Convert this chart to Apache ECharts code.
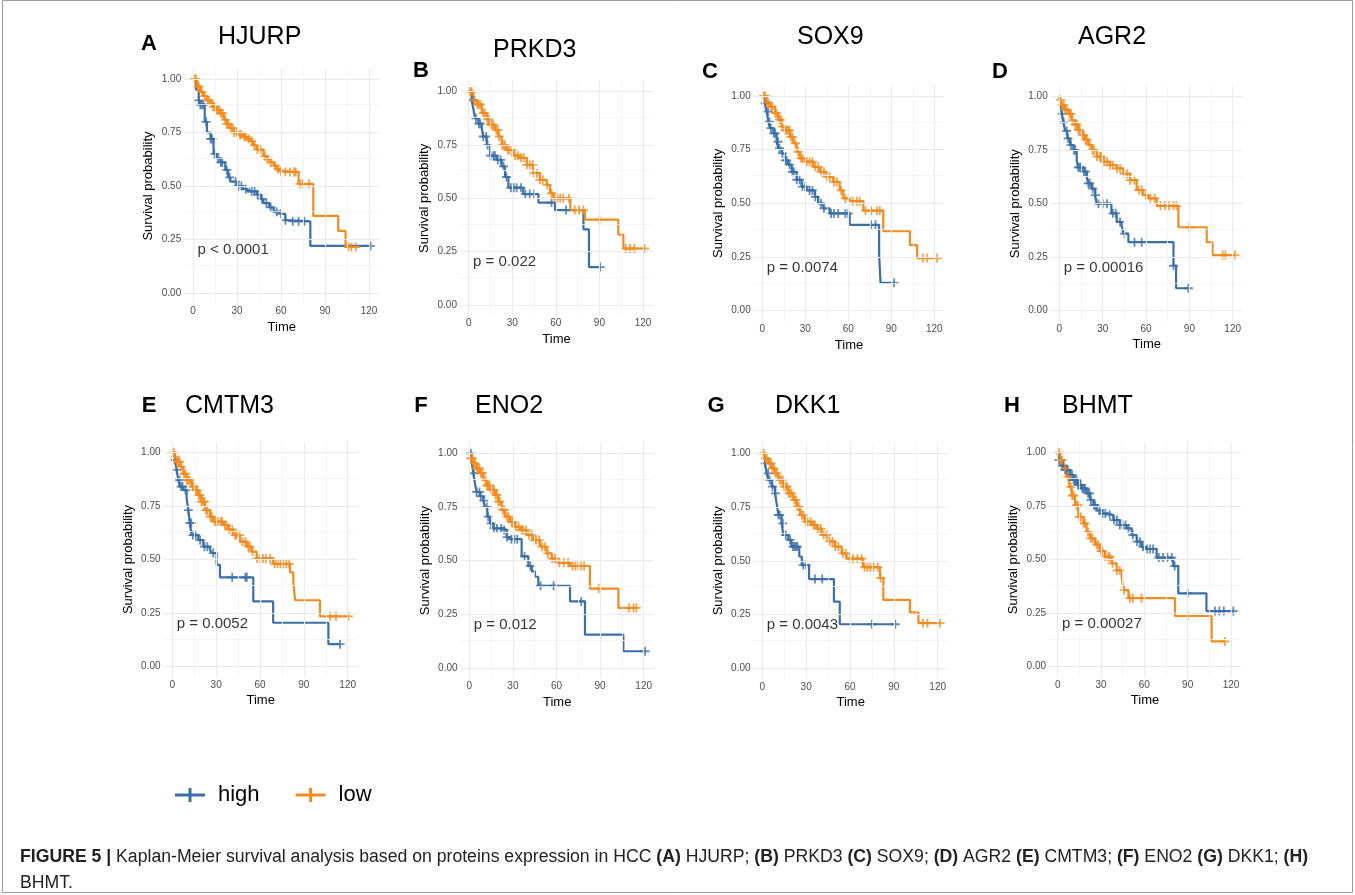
<!DOCTYPE html>
<html>
<head>
<meta charset="utf-8">
<script src="https://cdn.jsdelivr.net/npm/echarts@6/dist/echarts.min.js"></script>
<style>
html,body{margin:0;padding:0;background:#fff;}
#chart{width:1355px;height:895px;}
</style>
</head>
<body>
<div id="chart"></div>
<script>
// ---- data ----
const genes = ['HJURP', 'PRKD3', 'SOX9', 'AGR2', 'CMTM3', 'ENO2', 'DKK1', 'BHMT'];
const letters = ['A', 'B', 'C', 'D', 'E', 'F', 'G', 'H'];
const pValues = ['p < 0.0001', 'p = 0.022', 'p = 0.0074', 'p = 0.00016', 'p = 0.0052', 'p = 0.012', 'p = 0.0043', 'p = 0.00027'];
const xTicks = [0, 30, 60, 90, 120];
const xMinor = [15, 45, 75, 105];
const yTicks = [0, 0.25, 0.5, 0.75, 1];
const yMinor = [0.125, 0.375, 0.625, 0.875];

// KM steps [time, survival] and censor times
const hjurpHigh = [[0,1],[2,0.95],[3.9,0.90],[5,0.88],[8,0.80],[9.5,0.75],[12,0.72],[14,0.65],[16,0.63],[18.6,0.61],[22,0.575],[24,0.54],[25.5,0.52],[30,0.50],[34,0.485],[37,0.475],[43.6,0.46],[46,0.44],[48,0.42],[52,0.40],[55,0.38],[59.5,0.37],[63,0.34],[65,0.335],[80,0.22],[121,0.22]];
const hjurpHighCens = [4,5,6,7,9,12,13,15,17,19,20,23,25,29,31,33,36,40,42,44,47,50,53,57,60,63,68,72,76,121];
const hjurpLow = [[0,1],[3,0.965],[5,0.94],[7,0.92],[9.5,0.90],[12,0.885],[14,0.87],[16,0.855],[18.6,0.84],[21,0.81],[23,0.79],[25,0.77],[27.7,0.75],[31,0.74],[34.5,0.73],[37,0.72],[39,0.71],[41,0.69],[43.6,0.67],[48,0.64],[50,0.625],[52.7,0.61],[55,0.595],[57,0.58],[59.5,0.57],[62,0.565],[72,0.51],[82,0.36],[99,0.29],[104,0.215],[111,0.215]];
const hjurpLowCens = [1,2,3,4,6,8,10,11,13,14,15,16,17,18,19,20,22,23,24,26,27,28,30,32,33,35,36,38,40,42,44,46,49,51,53,56,58,60,63,66,69,70,73,75,79,106,108,111];

const prkd3High = [[0,1],[2,0.96],[3.2,0.92],[4.4,0.875],[6.7,0.85],[9,0.83],[10,0.79],[12.4,0.75],[14.7,0.70],[19.3,0.68],[22.7,0.65],[25,0.60],[27.3,0.55],[37.6,0.52],[48,0.48],[59.4,0.445],[79,0.355],[82.8,0.178],[90.5,0.178]];
const prkd3HighCens = [3,5,7,8,10,12,13,15,17,18,20,22,24,26,29,31,33,36,39,42,45,57,67,90.5];
const prkd3Low = [[0,1],[3.2,0.96],[5.5,0.94],[9,0.90],[12.4,0.87],[14.7,0.845],[18,0.82],[20.4,0.79],[22.7,0.75],[26,0.727],[30.7,0.70],[35.3,0.69],[40,0.657],[44.5,0.618],[49,0.587],[53.7,0.563],[56,0.524],[58.3,0.50],[70,0.445],[80,0.40],[103,0.33],[106.5,0.265],[121,0.265]];
const prkd3LowCens = [1,2,4,6,7,8,10,11,13,14,15,16,17,19,20,21,23,24,25,27,28,30,32,34,36,38,40,42,44,45,47,49,51,54,57,59,61,63,65,69,73,76,79,90,108,111,114,121];

const sox9High = [[0,1],[1.9,0.966],[3,0.927],[4.2,0.88],[5.3,0.85],[7.7,0.826],[10,0.787],[11.2,0.756],[13.5,0.733],[15.8,0.70],[18,0.68],[20.5,0.647],[24,0.61],[27.4,0.578],[31,0.56],[36.7,0.53],[39,0.50],[42.6,0.477],[47,0.453],[61,0.40],[81.5,0.26],[82.5,0.13],[92,0.13]];
const sox9HighCens = [2,4,5,6,8,9,11,12,14,16,17,19,21,22,24,26,28,30,33,35,37,41,43,48,50,53,58,60,76,79,92];
const sox9Low = [[0,1],[3,0.97],[5.3,0.95],[8.8,0.92],[11,0.89],[13.5,0.857],[15.8,0.84],[19.3,0.81],[21.6,0.78],[24,0.74],[26.3,0.71],[29.8,0.694],[35.6,0.67],[40,0.647],[45,0.624],[49.5,0.60],[54,0.56],[56.5,0.523],[61,0.51],[70.5,0.466],[84.4,0.37],[103,0.305],[108,0.245],[122,0.245]];
const sox9LowCens = [1,2,3,4,6,7,9,10,12,13,14,16,17,18,19,20,21,23,25,27,28,31,33,35,37,39,41,43,45,47,50,52,55,58,63,66,68,72,76,80,82,112,115,122];

const agr2High = [[0,1],[1,0.953],[1.6,0.92],[2.8,0.88],[4,0.84],[5.5,0.805],[7.4,0.774],[9.7,0.75],[12,0.70],[13,0.67],[16.6,0.65],[19,0.62],[20,0.595],[22.4,0.57],[24.7,0.54],[25.8,0.50],[36,0.455],[39.7,0.415],[43,0.40],[44.3,0.36],[47.8,0.32],[79,0.21],[80.8,0.105],[89.3,0.105]];
const agr2HighCens = [2,3,5,6,8,10,11,13,14,15,17,18,20,21,23,25,27,30,33,37,39,42,45,52,57,79,89.3];
const agr2Low = [[0,1],[0.5,0.985],[1.6,0.96],[3.2,0.94],[6.2,0.92],[8.5,0.89],[10.8,0.87],[13,0.845],[15.5,0.82],[17.8,0.80],[20,0.775],[22.4,0.75],[25.8,0.72],[30.5,0.696],[35,0.68],[39.7,0.665],[44.3,0.64],[49,0.61],[53.5,0.564],[58,0.54],[61.6,0.525],[67.4,0.49],[82.4,0.39],[102,0.32],[106,0.26],[121.6,0.26]];
const agr2LowCens = [1,2,3,4,5,7,8,9,11,12,13,14,16,17,18,19,21,23,24,26,28,29,31,33,35,37,40,42,45,47,49,52,55,57,60,63,66,70,73,76,79,81,90,113,115,121.6];

const cmtm3High = [[0,1],[1.8,0.964],[3,0.918],[4.1,0.87],[5.2,0.84],[7.5,0.824],[9.8,0.785],[11,0.73],[12,0.67],[13.2,0.614],[17.8,0.59],[21.2,0.56],[25.8,0.544],[27,0.53],[30.3,0.475],[32.6,0.417],[55.4,0.305],[69,0.205],[106.8,0.105],[114.8,0.105]];
const cmtm3HighCens = [2,3,5,6,7,9,11,12,13,14,16,19,22,24,28,41,50,51,114.8];
const cmtm3Low = [[0,1],[1.8,0.98],[3,0.956],[5.2,0.933],[7.5,0.90],[9.8,0.87],[13.2,0.84],[15.5,0.824],[17.8,0.80],[20,0.77],[22.4,0.73],[25.8,0.70],[28,0.677],[35,0.66],[38.3,0.64],[41.7,0.614],[46.3,0.583],[51,0.56],[54.3,0.537],[57.7,0.505],[69,0.48],[80.5,0.44],[82.8,0.397],[84,0.31],[101,0.235],[120.5,0.235]];
const cmtm3LowCens = [1,2,3,4,5,6,8,9,10,11,12,14,15,16,17,18,19,20,21,22,23,24,26,27,29,30,31,33,34,36,37,39,41,43,44,46,48,50,52,53,55,58,60,62,64,67,70,72,74,76,78,80,108,112,120.5];

const eno2High = [[0,1],[1.6,0.96],[2.8,0.907],[3.9,0.86],[5,0.82],[7.3,0.80],[9.6,0.78],[10.8,0.75],[12.4,0.705],[14.2,0.674],[16.5,0.65],[23.4,0.643],[25.7,0.61],[28,0.60],[36,0.52],[40.6,0.475],[43,0.45],[45.2,0.425],[47.5,0.383],[69.3,0.31],[79.6,0.155],[106,0.078],[121,0.078]];
const eno2HighCens = [1,3,5,7,8,10,12,13,15,17,19,22,24,26,29,31,33,38,42,49,58,77,121];
const eno2Low = [[0,1],[1,0.977],[2.8,0.953],[5,0.93],[7.3,0.907],[9.6,0.876],[12,0.85],[14.2,0.83],[17.7,0.806],[20,0.775],[22.3,0.736],[24.6,0.705],[28,0.68],[31.4,0.658],[35,0.643],[39.5,0.62],[44,0.596],[48.6,0.565],[53.2,0.534],[56.7,0.51],[60,0.49],[69.3,0.475],[83,0.37],[102.6,0.28],[115,0.28]];
const eno2LowCens = [1,2,3,4,5,6,7,8,9,11,12,13,14,15,16,17,18,19,20,21,23,24,26,27,29,30,32,34,36,37,39,41,43,45,46,48,50,52,54,57,59,62,65,68,71,73,75,77,79,89,110,113,115];

const dkk1High = [[0,1],[1.8,0.953],[3,0.907],[4.1,0.876],[6.4,0.845],[8.7,0.814],[9.8,0.767],[11,0.713],[13.2,0.674],[14.4,0.62],[17.8,0.597],[20,0.566],[25.3,0.52],[27,0.48],[32,0.415],[49,0.31],[53,0.205],[91,0.205]];
const dkk1HighCens = [2,4,5,7,9,11,12,14,16,19,21,22,23,24,28,30,36,41,75,91];
const dkk1Low = [[0,1],[1.8,0.977],[4.1,0.953],[6.4,0.93],[8.7,0.907],[11,0.876],[14.4,0.845],[17.8,0.814],[21.2,0.783],[23.5,0.752],[25.8,0.713],[29.2,0.682],[33.8,0.667],[37.2,0.65],[40.6,0.62],[45.2,0.59],[49.7,0.566],[54.3,0.535],[57.7,0.51],[69,0.47],[80.5,0.42],[82.8,0.318],[101,0.26],[106.8,0.21],[121.6,0.21]];
const dkk1LowCens = [1,2,3,5,6,7,8,9,10,12,13,14,15,16,17,18,19,20,22,23,24,25,27,28,30,31,33,35,36,38,40,42,44,46,48,50,52,55,57,60,62,65,68,70,72,74,76,79,81,110,113,121.6];

const bhmtHigh = [[0,1],[0.5,0.966],[2.8,0.94],[5,0.92],[8.5,0.896],[10.8,0.872],[13.2,0.85],[16.6,0.833],[20,0.81],[22.4,0.78],[24.7,0.755],[27,0.73],[30.5,0.716],[35,0.709],[38.5,0.685],[43,0.662],[47.8,0.646],[51.2,0.615],[54.7,0.584],[58,0.56],[61,0.55],[68.5,0.51],[80,0.47],[83.5,0.343],[103,0.26],[121.6,0.26]];
const bhmtHighCens = [1,2,3,4,5,6,7,9,10,11,12,13,14,15,16,17,18,19,21,22,23,25,26,29,31,33,36,39,41,43,45,47,49,52,55,57,59,62,64,66,70,73,76,79,81,90,109,112,115,121.6];
const bhmtLow = [[0,1],[1.6,0.966],[3.9,0.927],[6.2,0.888],[8,0.84],[9.7,0.80],[12,0.755],[14.3,0.70],[17.8,0.67],[20,0.63],[22.4,0.60],[25.8,0.57],[29.3,0.54],[32.8,0.514],[37.4,0.483],[40.8,0.45],[44.3,0.42],[45.5,0.358],[49,0.32],[81.2,0.237],[106.6,0.118],[115.8,0.118]];
const bhmtLowCens = [1,2,3,5,7,9,10,11,13,14,15,16,18,19,21,23,24,27,28,30,31,33,35,36,38,41,43,46,50,52,58,90,115.8];

const highCurves = [hjurpHigh, prkd3High, sox9High, agr2High, cmtm3High, eno2High, dkk1High, bhmtHigh];
const highCensors = [hjurpHighCens, prkd3HighCens, sox9HighCens, agr2HighCens, cmtm3HighCens, eno2HighCens, dkk1HighCens, bhmtHighCens];
const lowCurves = [hjurpLow, prkd3Low, sox9Low, agr2Low, cmtm3Low, eno2Low, dkk1Low, bhmtLow];
const lowCensors = [hjurpLowCens, prkd3LowCens, sox9LowCens, agr2LowCens, cmtm3LowCens, eno2LowCens, dkk1LowCens, bhmtLowCens];

// ---- layout ----
// pixel of t=0, t=120, S=1, S=0 for each panel
const boxes = [
    [193, 369, 79, 293], [468.7, 643, 91.7, 305], [762.3, 934.3, 96, 310.7], [1059.4, 1232.7, 96.7, 310.7],
    [172.3, 347.7, 452.3, 666.7], [469.3, 643.7, 453.3, 668], [762.3, 937.7, 453.3, 668.3], [1057.7, 1231, 452.7, 666.7]
];
const titlePos = [[218, 37], [493, 50], [797, 37], [1078, 37], [185, 406], [475, 406], [775, 406], [1062, 406]];
const letterPos = [[149, 44], [421, 71], [710, 72], [1000, 72], [149, 406], [421, 406], [716, 406], [1012, 406]];

const BLUE = '#3b6fa8', ORANGE = '#f28b1e';
const PLUS = 'path://M3.6,0H5.4V3.6H9V5.4H5.4V9H3.6V5.4H0V3.6H3.6Z';
const LEGEND_ICON = 'path://M0,5.5H30V8.5H0Z M13.5,0H16.5V14H13.5Z';

function survAt(curve, t) {
    let s = curve[0][1];
    curve.forEach(p => { if (p[0] <= t) s = p[1]; });
    return s;
}

let chart = echarts.init(document.getElementById('chart'));
let grids = [], xAxes = [], yAxes = [], series = [];

boxes.forEach((b, i) => {
    let k = (b[1] - b[0]) / 120, h = b[3] - b[2];
    grids.push({ left: b[0] - 6 * k, top: b[2] - 0.05 * h, width: 133 * k, height: 1.1 * h, containLabel: false });
    xAxes.push({
        type: 'value', gridIndex: i, min: -6, max: 127,
        axisLine: { show: false },
        axisTick: { show: true, length: 4, lineStyle: { color: '#333' }, customValues: xTicks },
        axisLabel: { customValues: xTicks, fontSize: 10, color: '#4d4d4d', margin: 3, fontFamily: 'Liberation Sans' },
        splitLine: { show: false },
        name: 'Time', nameLocation: 'middle', nameGap: 17,
        nameTextStyle: { fontSize: 13, color: '#000', fontFamily: 'Liberation Sans' }
    });
    yAxes.push({
        type: 'value', gridIndex: i, min: -0.05, max: 1.05,
        axisLine: { show: false },
        axisTick: { show: true, length: 4, lineStyle: { color: '#333' }, customValues: yTicks },
        axisLabel: { customValues: yTicks, fontSize: 10, color: '#4d4d4d', margin: 3, fontFamily: 'Liberation Sans',
            formatter: v => v.toFixed(2) },
        splitLine: { show: false },
        name: 'Survival probability', nameLocation: 'middle', nameGap: 29, nameRotate: 90,
        nameTextStyle: { fontSize: 13, color: '#000', fontFamily: 'Liberation Sans' }
    });

    let gridLines = [];
    yTicks.forEach(v => gridLines.push({ yAxis: v, lineStyle: { color: '#ebebeb', width: 1.1 } }));
    yMinor.forEach(v => gridLines.push({ yAxis: v, lineStyle: { color: '#f4f4f4', width: 0.8 } }));
    xTicks.forEach(v => gridLines.push({ xAxis: v, lineStyle: { color: '#ebebeb', width: 1.1 } }));
    xMinor.forEach(v => gridLines.push({ xAxis: v, lineStyle: { color: '#f4f4f4', width: 0.8 } }));
    series.push({
        type: 'line', xAxisIndex: i, yAxisIndex: i, data: [], z: 1, silent: true,
        markLine: { silent: true, symbol: ['none', 'none'], label: { show: false }, animation: false,
            lineStyle: { type: 'solid' }, data: gridLines }
    });

    [[highCurves[i], highCensors[i], 'high', BLUE], [lowCurves[i], lowCensors[i], 'low', ORANGE]].forEach(g => {
        series.push({
            type: 'line', name: g[2], xAxisIndex: i, yAxisIndex: i, step: 'end', data: g[0],
            showSymbol: false, z: 3, lineStyle: { width: 2.2, color: g[3] }, itemStyle: { color: g[3] }
        });
        series.push({
            type: 'scatter', name: g[2], xAxisIndex: i, yAxisIndex: i, z: 4,
            data: g[1].map(t => [t, survAt(g[0], t)]),
            symbol: PLUS, symbolSize: 9, itemStyle: { color: g[3] }
        });
    });

    series.push({
        type: 'scatter', xAxisIndex: i, yAxisIndex: i, z: 6, silent: true,
        data: [[3, 0.2]], symbolSize: 0.1, itemStyle: { color: 'transparent' },
        label: { show: true, position: 'right', distance: 0, formatter: pValues[i],
            fontSize: 15, color: '#000', fontFamily: 'Liberation Sans' }
    });
});

let graphics = [{
    type: 'rect', shape: { x: 2.5, y: 0.5, width: 1350, height: 892 }, silent: true,
    style: { fill: 'none', stroke: '#9a9a9a', lineWidth: 1 }
}];
genes.forEach((g, i) => {
    graphics.push({ type: 'text', x: titlePos[i][0], y: titlePos[i][1],
        style: { text: g, fontSize: 25, fontFamily: 'Liberation Sans', fill: '#000', align: 'left', verticalAlign: 'middle' } });
    graphics.push({ type: 'text', x: letterPos[i][0], y: letterPos[i][1],
        style: { text: letters[i], fontSize: 22, fontWeight: 'bold', fontFamily: 'Liberation Sans', fill: '#000', align: 'center', verticalAlign: 'middle' } });
});
const capRich = {
    b: { fontWeight: 'bold', fontSize: 18, fontFamily: 'Liberation Sans', fill: '#222' },
    n: { fontSize: 18, fontFamily: 'Liberation Sans', fill: '#222' }
};
graphics.push({ type: 'text', x: 20, y: 857, scaleX: 0.98,
    style: { text: '{b|FIGURE 5 |}{n| Kaplan-Meier survival analysis based on proteins expression in HCC }{b|(A)}{n| HJURP; }{b|(B)}{n| PRKD3 }{b|(C)}{n| SOX9; }{b|(D)}{n| AGR2 }{b|(E)}{n| CMTM3; }{b|(F)}{n| ENO2 }{b|(G)}{n| DKK1; }{b|(H)}',
        rich: capRich, verticalAlign: 'middle' } });
graphics.push({ type: 'text', x: 20, y: 883, scaleX: 0.98,
    style: { text: '{n|BHMT.}', rich: capRich, verticalAlign: 'middle' } });

const option = {
    animation: false,
    grid: grids,
    xAxis: xAxes,
    yAxis: yAxes,
    legend: {
        left: 175, top: 784, padding: 0, itemWidth: 30, itemHeight: 14, itemGap: 36, selectedMode: false,
        textStyle: { fontSize: 22, color: '#000', fontFamily: 'Liberation Sans', padding: [0, 0, 0, 8] },
        data: [{ name: 'high', icon: LEGEND_ICON }, { name: 'low', icon: LEGEND_ICON }]
    },
    graphic: graphics,
    series: series
};
chart.setOption(option);
</script>
</body>
</html>
